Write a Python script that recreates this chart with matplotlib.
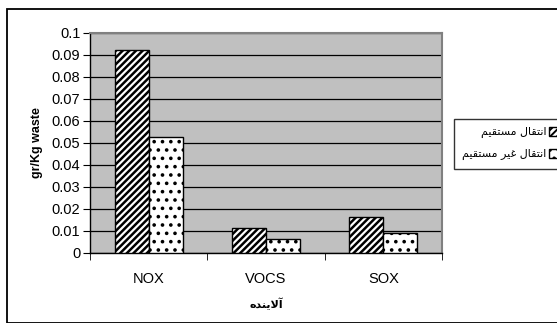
import matplotlib
matplotlib.use("Agg")
import matplotlib.pyplot as plt
import numpy as np

# pollutants and emission factors (gr per Kg waste)
categories = ["NOX", "VOCS", "SOX"]
direct = [0.0923, 0.0115, 0.0162]
indirect = [0.0527, 0.0064, 0.0089]

lbl_direct = "انتقال مستقيم"
lbl_indirect = "انتقال غير مستقيم"
lbl_x = "آلاينده"

yticks = np.arange(0, 0.11, 0.01)
ytick_labels = ["0", "0.01", "0.02", "0.03", "0.04", "0.05", "0.06", "0.07", "0.08", "0.09", "0.1"]


def shape_arabic(s):
    # joined presentation forms, reversed into visual order for left-to-right drawing
    table = {
        "انتقال مستقيم": "\ufe8d\ufee7\ufe98\ufed8\ufe8e\ufedd \ufee3\ufeb4\ufe98\ufed8\ufef4\ufee2",
        "انتقال غير مستقيم": "\ufe8d\ufee7\ufe98\ufed8\ufe8e\ufedd \ufecf\ufef4\ufeae \ufee3\ufeb4\ufe98\ufed8\ufef4\ufee2",
        "آلاينده": "\ufe81\ufefb\ufef3\ufee8\ufeaa\ufee9",
    }
    return table[s][::-1]


plt.rcParams["font.family"] = ["Liberation Sans", "DejaVu Sans"]

fig = plt.figure(figsize=(5.57, 3.23), dpi=100)
W, H = 557, 323

# outer chart frame
fig.patches.append(plt.Rectangle((7 / W, 0), 1, 1 - 9 / H, transform=fig.transFigure,
                                 fill=False, edgecolor="black", linewidth=1.3))

ax = fig.add_axes([90 / W, 1 - 253 / H, 352 / W, 220 / H])
ax.set_facecolor("#c0c0c0")

x = np.arange(len(categories))
bw = 0.29
plt.rcParams["hatch.linewidth"] = 1.8
b1 = ax.bar(x - bw / 2, direct, bw, color="white", edgecolor="black", hatch="/////",
            linewidth=1.0, label=shape_arabic(lbl_direct), zorder=3)
plt.rcParams["hatch.linewidth"] = 1.4
b2 = ax.bar(x + bw / 2, indirect, bw, color="white", edgecolor="black", hatch="..",
            linewidth=1.0, label=shape_arabic(lbl_indirect), zorder=3)

ax.set_xlim(-0.5, 2.5)
ax.set_ylim(0, 0.1)
ax.set_yticks(yticks)
ax.set_yticklabels(ytick_labels, fontsize=10.5)
ax.yaxis.grid(True, color="black", linewidth=0.9)
ax.set_axisbelow(True)

ax.set_xticks(x)
ax.set_xticklabels(categories, fontsize=10.5)
ax.set_xticks([-0.5, 0.5, 1.5, 2.5], minor=True)
ax.tick_params(axis="x", which="major", length=0, pad=14)
ax.tick_params(axis="x", which="minor", length=5, direction="out")
ax.tick_params(axis="y", length=5, direction="out", pad=2)

for side in ["top", "right"]:
    ax.spines[side].set_color("#808080")
    ax.spines[side].set_linewidth(1.5)
for side in ["left", "bottom"]:
    ax.spines[side].set_color("black")
    ax.spines[side].set_linewidth(1.0)

ax.set_ylabel("gr/Kg waste", fontsize=9, fontweight="bold", labelpad=6)
ax.set_xlabel(shape_arabic(lbl_x), fontsize=8, fontweight="bold", labelpad=8,
              family=["DejaVu Sans"])

leg = fig.legend(handles=[b1, b2], loc="upper left", bbox_to_anchor=(454 / W, 1 - 119 / H),
                 frameon=True, fancybox=False, edgecolor="black",
                 handlelength=0.8, handleheight=0.8, handletextpad=0.25,
                 borderpad=0.75, borderaxespad=0, labelspacing=0.95, markerfirst=False,
                 prop={"family": ["DejaVu Sans"], "size": 8})
leg.get_frame().set_linewidth(1.0)

fig.savefig("out.png", dpi=100)
